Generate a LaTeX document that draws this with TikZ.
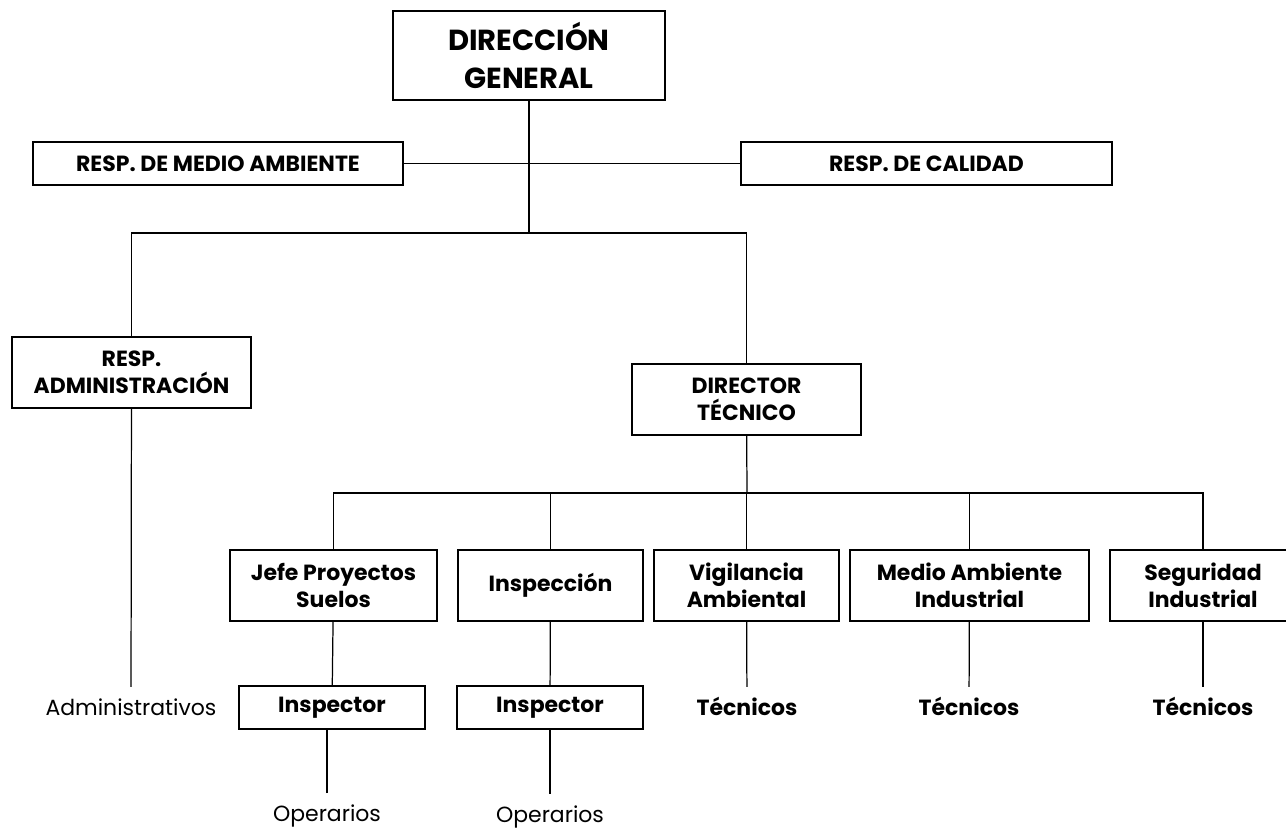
\documentclass[tikz,border=0pt]{standalone}
\usepackage{fontspec}
\setmainfont{Poppins}
\begin{document}
\begin{tikzpicture}[x=0.02cm, y=-0.02cm, line width=0.7pt,
	box/.style 2 args={draw, align=center, inner sep=0pt, minimum width=#1*0.02cm, minimum height=#2*0.02cm, font=\bfseries\fontsize{12.5}{15.5}\selectfont},
	lbl/.style={inner xsep=0pt, inner ysep=4pt, text height=12pt, text depth=3pt, font=\fontsize{12.5}{15.5}\selectfont},
	tec/.style={lbl, font=\bfseries\fontsize{12.5}{15.5}\selectfont}]
		\clip (0,0) rectangle (1286,829);

		\node[box={272}{89}, font=\bfseries\fontsize{16.5}{21.4}\selectfont] (dg) at (529,55.5) {DIRECCIÓN\\GENERAL};
		\node[box={370}{43}] (rma) at (218,163.5) {RESP. DE MEDIO AMBIENTE};
		\node[box={371}{43}] (rcal) at (926.5,163.5) {RESP. DE CALIDAD};

		\node[box={239}{71}] (radm) at (131.5,372.5) {RESP.\\ADMINISTRACIÓN};
		\node[box={229}{71}] (dt) at (746.5,399.5) {DIRECTOR\\TÉCNICO};

		\node[box={207}{71}] (jefe) at (333.5,585.5) {Jefe Proyectos\\Suelos};
		\node[box={185}{71}] (insp) at (550.5,585.5) {Inspección};
		\node[box={185}{71}] (vig) at (746.5,585.5) {Vigilancia\\Ambiental};
		\node[box={239}{71}] (mai) at (969.5,585.5) {Medio Ambiente\\Industrial};
		\node[box={186}{71}] (seg) at (1203,585.5) {Seguridad\\Industrial};

		\node[box={186}{43}] (ins1) at (332,707.5) {Inspector};
		\node[box={186}{43}] (ins2) at (550,707.5) {Inspector};
		\node[lbl] (adm) at (131,707.6) {Administrativos};
		\node[tec] (tec1) at (747,707.6) {Técnicos};
		\node[tec] (tec2) at (969,707.6) {Técnicos};
		\node[tec] (tec3) at (1203,707.6) {Técnicos};
		\node[lbl] (op1) at (327,814) {Operarios};
		\node[lbl] (op2) at (550,815) {Operarios};

		\coordinate (j1) at (529,233);
		\coordinate (j2) at (747,493);

		\draw (rma) -- (rcal);
		\draw (dg) -- (j1);
		\draw (radm) |- (j1) -| (dt);
		\draw (dt) -- (j2);
		\foreach \n in {jefe,insp,vig,mai,seg}
			\draw (j2) -| (\n);

		\draw (jefe) -- (ins1);
		\draw (insp) -- (ins2);
		\draw (radm) -- (adm);
		\draw (op1) -- (op1 |- ins1.south);
		\draw (ins2) -- (op2);
		\draw (vig) -- (tec1);
		\draw (mai) -- (tec2);
		\draw (seg) -- (tec3);
	\end{tikzpicture}
\end{document}
